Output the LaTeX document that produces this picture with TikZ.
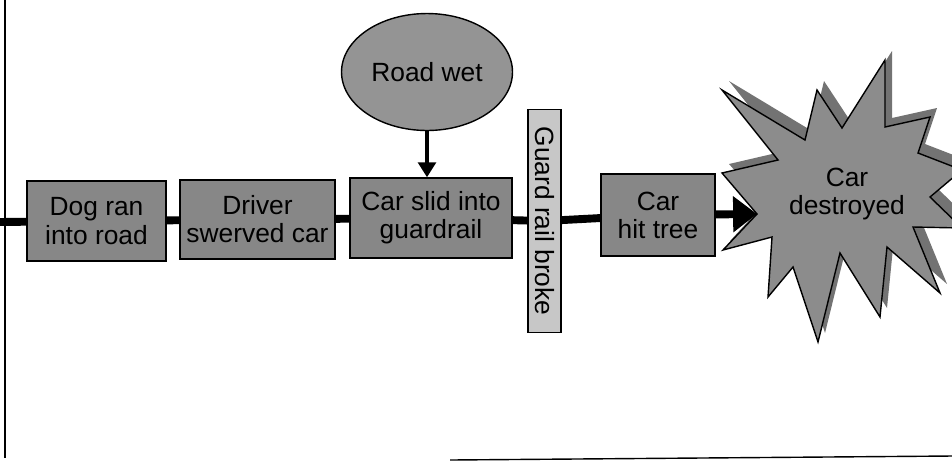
\documentclass[tikz,border=0pt]{standalone}
\usepackage{fontspec}
\setmainfont{Liberation Sans}
\usetikzlibrary{shapes.geometric, arrows.meta}

\tikzset{
	event/.style={draw=black, thick, fill=black!47, inner sep=1pt, align=center,
		font=\fontsize{15pt}{16pt}\selectfont},
	link/.style={line width=4.5pt},
}

\begin{document}
\begin{tikzpicture}[x=0.02cm, y=-0.02cm]
	\useasboundingbox (0,0) rectangle (952,461);
	
	%frame
	\draw[thick] (5,0)--(5,458);
	\draw[thick] (450,460)--(952,456);
	
	%nodes
	\node[event, minimum width=2.78cm, minimum height=1.6cm] (dog) at (96.5,221) {Dog ran\\into road};
	\node[event, minimum width=3.1cm, minimum height=1.58cm] (driver) at (257.5,219.5) {Driver\\swerved car};
	\node[event, minimum width=3.24cm, minimum height=1.6cm] (slid) at (431,218) {Car slid into\\guardrail};
	\node[event, fill=black!22, minimum width=4.46cm, minimum height=0.66cm, rotate=-90] (rail) at (544.5,221) {Guard rail broke};
	\node[event, minimum width=2.28cm, minimum height=1.64cm] (tree) at (658,215) {Car\\hit tree};
	\node[event, ellipse, fill=black!42, minimum width=3.42cm, minimum height=2.34cm] (wet) at (427,72) {Road wet};
	
	%star
	\fill[black!55, shift={(7,-9)}] (885,60)--(842,128)--(817,90)--(805,140)--(722,90)--(778,160)--(722,173)
		--(757,213)--(723,250)--(772,237)--(768,297)--(793,267)--(818,342)--(840,253)--(880,317)
		--(887,247)--(940,293)--(913,227)--(962,228)--(930,197)--(962,170)--(918,153)--(930,117)--(885,127)--cycle;
	\draw[thick, fill=black!45] (885,60)--(842,128)--(817,90)--(805,140)--(722,90)--(778,160)--(722,173)
		--(757,214) coordinate (hit) --(723,250)--(772,237)--(768,297)--(793,267)--(818,342)--(840,253)--(880,317)
		--(887,247)--(940,293)--(913,227)--(962,228)--(930,197)--(962,170)--(918,153)--(930,117)--(885,127)--cycle;
	\node[align=center, font=\fontsize{15pt}{16pt}\selectfont] (wreck) at (847,194) {Car\\destroyed};
	
	%lines
	\coordinate (start) at (0,222);
	\draw[link] (start)--(dog);		%start--dog
	\draw[link] (dog)--(driver);	%dog--driver
	\draw[link] (driver)--(slid);	%driver--slid
	\draw[link] (slid)--(rail);		%slid--rail
	\draw[link] (rail)--(tree);		%rail--tree
	\draw[link, -{Triangle[length=13.6pt, width=19.8pt]}] (tree)--(hit);	%tree--star
	\draw[line width=2.3pt, -{Triangle[length=8.5pt, width=10pt]}] (wet)--(wet |- slid.north);	%wet--slid
	
\end{tikzpicture}
\end{document}
